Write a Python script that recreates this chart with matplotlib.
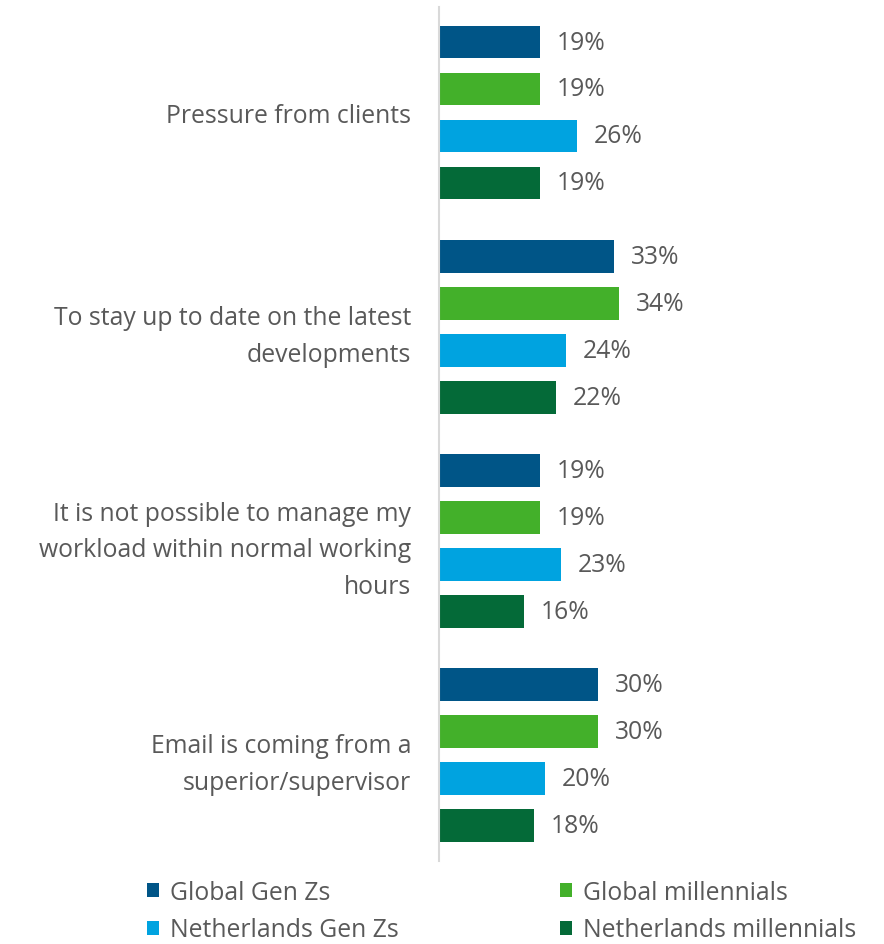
import numpy as np
import matplotlib.pyplot as plt
from matplotlib.patches import Patch

plt.rcParams['font.family'] = ['Open Sans', 'DejaVu Sans']

categories = [
    'Pressure from clients',
    'To stay up to date on the latest\ndevelopments',
    'It is not possible to manage my\nworkload within normal working\nhours',
    'Email is coming from a\nsuperior/supervisor',
]
series = ['Global Gen Zs', 'Global millennials', 'Netherlands Gen Zs', 'Netherlands millennials']
global_genz = [19, 33, 19, 30]
global_mill = [19, 34, 19, 30]
nl_genz = [26, 24, 23, 20]
nl_mill = [19, 22, 16, 18]

colors = ['#005587', '#43B02A', '#00A3E0', '#046A38']
text_color = '#595959'
values = [global_genz, global_mill, nl_genz, nl_mill]

fig = plt.figure(figsize=(8.84, 9.45), dpi=100)
ax = fig.add_axes([439 / 884, 1 - 862 / 945, 1 - 439 / 884, 854 / 945])

group_step = 4.56
bar_h = 0.70
fs = 17.8

for k, (name, vals, col) in enumerate(zip(series, values, colors)):
    y = np.arange(len(categories)) * group_step + k
    bars = ax.barh(y, vals, height=bar_h, color=col, label=name)
    for b, v in zip(bars, vals):
        ax.annotate(f'{v}%', (b.get_width(), b.get_y() + b.get_height() / 2),
                    xytext=(12, 0), textcoords='offset points',
                    ha='left', va='center', fontsize=fs, color=text_color)

ax.set_xlim(0, 445 / 5.3)
ax.set_ylim(17.43, -0.745)
ax.set_yticks(np.arange(len(categories)) * group_step + 1.5)
ax.set_yticklabels(categories, fontsize=fs, color=text_color, ha='right',
                   linespacing=1.62)
ax.tick_params(axis='y', length=0, pad=20)
ax.set_xticks([])
for s in ['top', 'right', 'bottom']:
    ax.spines[s].set_visible(False)
ax.spines['left'].set_color('#D9D9D9')
ax.spines['left'].set_linewidth(1.5)

# legend fills column-wise, so reorder to read across rows
order = [0, 2, 1, 3]
handles = [Patch(facecolor=colors[i], edgecolor='none') for i in order]
labels = [series[i] for i in order]
fig.legend(handles, labels, loc='upper left', bbox_to_anchor=(147 / 884, 1 - 881 / 945),
           ncol=2, frameon=False, fontsize=fs, labelcolor=text_color,
           handlelength=0.5, handleheight=0.5, handletextpad=0.45,
           columnspacing=6.5, labelspacing=0.5, borderaxespad=0, borderpad=0)

fig.savefig('out.png', dpi=100)
